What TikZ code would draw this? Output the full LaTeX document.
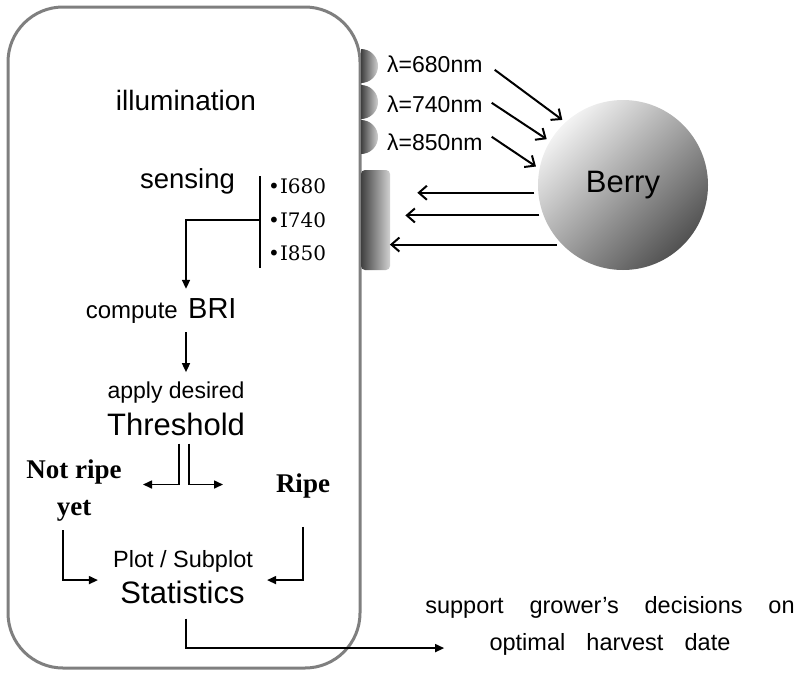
\documentclass[tikz,border=0pt]{standalone}
\usepackage{fontspec}
\setmainfont{Liberation Sans}
\newfontfamily\bookfont{Liberation Serif}
\newfontfamily\readfont{DejaVu Serif}
\usetikzlibrary{arrows.meta, positioning}

\definecolor{framegray}{HTML}{7F7F7F}
\newcommand{\pxsize}[1]{\fontsize{#1}{#1}\selectfont}

\begin{document}
\begin{tikzpicture}[
        x=1pt, y=-1pt,
        txt/.style={inner sep=0pt, anchor=base},
        flow/.style={-{Triangle[length=9pt, width=8pt]}, line width=1.6pt},
        ray/.style={-{Straight Barb[length=8pt, width=14pt]}, line width=2pt},
        lamp/.style={left color=black!75, right color=black!18}
    ]
    \useasboundingbox (0,0) rectangle (810,672);

    % Device housing
    \draw[framegray, line width=3pt, rounded corners=55pt] (8,7) rectangle (360,668);
    \coordinate (spine) at (186,0);

    % LEDs and photodiode
    \foreach \y in {66,102,137}
        \shade[lamp] (361,\y-17) arc (-90:90:17) -- cycle;
    \shade[lamp, rounded corners=4pt] (361,170) rectangle (390,270);

    % Target
    \node[circle, minimum size=170pt, outer sep=4pt, shading=axis, top color=black!5,
          middle color=black!24, bottom color=black!68, shading angle=45,
          font=\pxsize{31}] (berry) at (623,185) {Berry};

    % Wavelength labels
    \node[txt, anchor=base west, font=\pxsize{23}] (lam1) at (387,72) {λ=680nm};
    \node[txt, anchor=base west, font=\pxsize{23}] (lam2) at (387,112) {λ=740nm};
    \node[txt, anchor=base west, font=\pxsize{23}] (lam3) at (387,150) {λ=850nm};

    % Steps inside the device
    \node[txt, font=\pxsize{28}] (illum) at (186,110) {illumination};
    \node[txt, font=\pxsize{27.5}] (sensing) at (187.5,188) {sensing};
    \node[txt, anchor=base west, font=\readfont\pxsize{20}] (i680) at (268,193) {•I680};
    \node[txt, anchor=base west, font=\readfont\pxsize{20}] (i740) at (268,227) {•I740};
    \node[txt, anchor=base west, font=\readfont\pxsize{20}] (i850) at (268,260) {•I850};
    \node[txt, anchor=base east, font=\pxsize{24}] (compute) at (178,318) {compute};
    \node[txt, anchor=base west, font=\pxsize{29}] (bri) at (188,318) {BRI};
    \node[txt, font=\pxsize{23}] (apply) at (176,398) {apply desired};
    \node[txt, font=\pxsize{31}] (thresh) at (176,435) {Threshold};
    \node[txt, align=center, font=\bookfont\bfseries\fontsize{27}{37}\selectfont] (notripe) at (74,515) {Not ripe\\yet};
    \node[txt, font=\bookfont\bfseries\pxsize{27}] (ripe) at (303,492) {Ripe};
    \node[txt, font=\pxsize{23.5}] (plot) at (183,567) {Plot / Subplot};
    \node[txt, font=\pxsize{31}] (stats) at (182.5,603) {Statistics};

    % Outcome
    \node[txt, align=center, font=\fontsize{23.5}{37}\selectfont] (support) at (610,650)
        {support\hspace{1.1em}grower’s\hspace{1.1em}decisions\hspace{1.1em}on\\optimal\hspace{0.9em}harvest\hspace{0.9em}date};

    % Light to and from the berry
    \draw[ray] ([shift={(12,6)}]lam1.east) -- (berry.133);
    \draw[ray] ([shift={(9,-1)}]lam2.east) -- (berry.149);
    \draw[ray] ([shift={(9,-5)}]lam3.east) -- (berry.168);
    \draw[ray] (berry.185) -- ++(-117,0);
    \draw[ray] (berry.200) -- ++(-134,0);
    \draw[ray] (berry.222) -- ++(-167,0);

    % Flow
    \coordinate (brtop) at (260,176);
    \coordinate (brbot) at (260,268);
    \draw[line width=1.6pt] (brtop) -- (brbot);
    \draw[flow, shorten >=9pt] (brtop |- i740) -| (spine |- bri.north);
    \draw[flow, shorten <=14pt, shorten >=9pt] (spine |- bri.south) -- (spine |- apply.north);
    \draw[flow, shorten <=8pt] ([xshift=-7pt]spine |- thresh.south) |- ++(-36,49);
    \draw[flow, shorten <=8pt] ([xshift=3pt]spine |- thresh.south) |- ++(34,49);
    \draw[flow, shorten <=9pt] ([xshift=-11pt]notripe.south) |- ([shift={(-15,8)}]plot.south west);
    \draw[flow, shorten <=29pt] (ripe.south) |- ([shift={(14,8)}]plot.south east);
    \draw[flow, shorten <=15pt] (spine |- stats.south) |- ([shift={(19,-7)}]support.south west);
\end{tikzpicture}
\end{document}
